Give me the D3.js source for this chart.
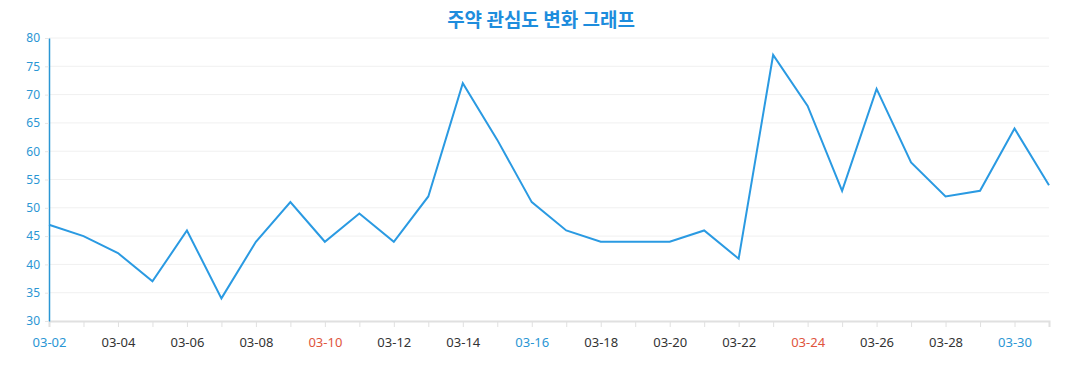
<!DOCTYPE html>
<html>
<head>
<meta charset="utf-8">
<script src="https://cdn.jsdelivr.net/npm/d3@7"></script>
<style>
    body { margin: 0; background: #fff; }
    svg text { font-family: "Noto Sans", "Open Sans", "Noto Sans CJK KR", sans-serif; }
</style>
</head>
<body>
<svg id="chart" width="1077" height="390"></svg>
<script>

const titleText = "주약 관심도 변화 그래프";

const dates = ["03-02", "03-03", "03-04", "03-05", "03-06", "03-07", "03-08", "03-09", "03-10", "03-11",
    "03-12", "03-13", "03-14", "03-15", "03-16", "03-17", "03-18", "03-19", "03-20", "03-21",
    "03-22", "03-23", "03-24", "03-25", "03-26", "03-27", "03-28", "03-29", "03-30", "03-31"];

const interest = [47, 45, 42, 37, 46, 34, 44, 51, 44, 49,
    44, 52, 72, 62, 51, 46, 44, 44, 44, 46,
    41, 77, 68, 53, 71, 58, 52, 53, 64, 54];

const yTicks = [30, 35, 40, 45, 50, 55, 60, 65, 70, 75, 80];

// labels shown in colour (the rest are dark)
const blueDates = ["03-02", "03-16", "03-30"];
const redDates = ["03-10", "03-24"];

const svg = d3.select("#chart");
const margin = { top: 38, right: 28, bottom: 69, left: 49 };
const width = +svg.attr("width") - margin.left - margin.right;
const height = +svg.attr("height") - margin.top - margin.bottom;
const chartArea = svg.append("g").attr("transform", `translate(${margin.left},${margin.top})`);

// Title
svg.append("text")
    .attr("x", 541)
    .attr("y", 27)
    .attr("text-anchor", "middle")
    .attr("fill", "#1e8ddd")
    .style("font-size", "19px")
    .style("font-weight", "bold")
    .style("font-family", "'Noto Sans CJK KR', sans-serif")
    .text(titleText);

// Scales
const xScale = d3.scalePoint()
    .domain(dates)
    .range([0, width]);

const yScale = d3.scaleLinear()
    .domain([30, 80])
    .range([height, 0]);

// Grid lines
chartArea.append("g")
    .selectAll("line")
    .data(yTicks.slice(1))
    .enter().append("line")
    .attr("x1", 0)
    .attr("x2", width)
    .attr("y1", d => yScale(d))
    .attr("y2", d => yScale(d))
    .attr("stroke", "#f0f0f0")
    .attr("stroke-width", 1);

// X axis
const xAxis = d3.axisBottom(xScale)
    .tickSize(6)
    .tickPadding(11)
    .tickFormat((d, i) => i % 2 === 0 ? d : "");

const gx = chartArea.append("g")
    .attr("transform", `translate(0,${height})`)
    .call(xAxis);

gx.select(".domain").attr("stroke", "#e0e0e0").attr("stroke-width", 2);
gx.selectAll(".tick line").attr("stroke", "#e0e0e0");
gx.selectAll(".tick text")
    .style("font-size", "13px")
    .attr("fill", d => blueDates.includes(d) ? "#2a96d4" : (redDates.includes(d) ? "#e0553c" : "#333"));

// Y axis
const yAxis = d3.axisLeft(yScale)
    .tickValues(yTicks)
    .tickSize(4)
    .tickPadding(5)
    .tickSizeOuter(0);

const gy = chartArea.append("g").call(yAxis);

gy.select(".domain").attr("stroke", "#2a96d4").attr("stroke-width", 1.5);
gy.selectAll(".tick line").attr("stroke", "#e5e5e5");
gy.selectAll(".tick text")
    .style("font-size", "12px")
    .attr("fill", "#2a96d4");

// Line
const line = d3.line()
    .x((d, i) => xScale(dates[i]))
    .y(d => yScale(d));

chartArea.append("path")
    .datum(interest)
    .attr("d", line)
    .attr("fill", "none")
    .attr("stroke", "#2a9ae2")
    .attr("stroke-width", 2)
    .attr("stroke-linejoin", "miter");

</script>
</body>
</html>
